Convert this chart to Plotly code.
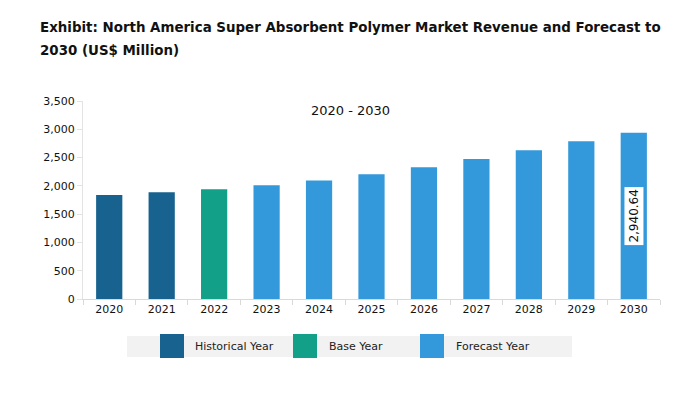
import plotly.graph_objects as go

years = ["2020", "2021", "2022", "2023", "2024", "2025", "2026", "2027", "2028", "2029", "2030"]
revenue = [1840, 1885, 1940, 2010, 2095, 2205, 2330, 2475, 2630, 2790, 2940.64]
kinds = ["Historical Year", "Historical Year", "Base Year"] + ["Forecast Year"] * 8
colors = {"Historical Year": "#17628f", "Base Year": "#12a089", "Forecast Year": "#3399db"}
legend_items = ["Historical Year", "Base Year", "Forecast Year"]
y_ticks = [0, 500, 1000, 1500, 2000, 2500, 3000, 3500]

OFF = 8  # page body margin
W, H = 683 - OFF, 398 - OFF
L, R, T, B = 83 - OFF, 23, 101 - OFF, 99
PW, PH = W - L - R, H - T - B

def px(x):
    return (x - OFF - L) / PW

def py(y):
    return (H - B - (y - OFF)) / PH

fig = go.Figure()
fig.add_trace(go.Bar(
    x=years, y=revenue,
    marker=dict(color=[colors[k] for k in kinds], line=dict(width=0)),
    width=0.5, showlegend=False, hoverinfo="x+y",
))

font = "DejaVu Sans, Verdana, sans-serif"
annotations = [
    dict(text="<b>Exhibit: North America Super Absorbent Polymer Market Revenue and Forecast to</b>",
         xref="paper", yref="paper", x=px(38), y=py(27), xanchor="left", yanchor="middle",
         showarrow=False, font=dict(family=font, size=13.4, color="#111")),
    dict(text="<b>2030 (US$ Million)</b>",
         xref="paper", yref="paper", x=px(38), y=py(50), xanchor="left", yanchor="middle",
         showarrow=False, font=dict(family=font, size=13.4, color="#111")),
    dict(text="2020 - 2030", xref="paper", yref="paper", x=px(350), y=py(110),
         xanchor="center", yanchor="middle", showarrow=False,
         font=dict(family=font, size=13, color="#111")),
    dict(text=f"{revenue[-1]:,.2f}", xref="x", yref="y", x=len(years) - 1, y=revenue[-1] / 2,
         textangle=-90, showarrow=False, bgcolor="white", borderpad=2,
         font=dict(family=font, size=12, color="#111")),
]

shapes = [dict(type="rect", xref="paper", yref="paper", x0=px(127), x1=px(572),
               y0=py(357), y1=py(336), fillcolor="#f2f2f2", line=dict(width=0), layer="below")]
sq_x = [160, 293, 420]
tx_x = [193, 327, 454]
for name, sx, tx in zip(legend_items, sq_x, tx_x):
    shapes.append(dict(type="rect", xref="paper", yref="paper", x0=px(sx), x1=px(sx + 24),
                       y0=py(358), y1=py(334), fillcolor=colors[name], line=dict(width=0)))
    annotations.append(dict(text=name, xref="paper", yref="paper", x=px(tx), y=py(346.5),
                            xanchor="left", yanchor="middle", showarrow=False,
                            font=dict(family=font, size=11, color="#222")))

fig.update_layout(
    width=W, height=H, margin=dict(l=L, r=R, t=T, b=B),
    paper_bgcolor="white", plot_bgcolor="white",
    annotations=annotations, shapes=shapes,
    xaxis=dict(type="category", range=[-0.5, 10.5], showline=True, linecolor="#d9d9d9",
               linewidth=1, ticks="outside", tickson="boundaries", ticklen=5, tickcolor="#d9d9d9",
               showgrid=False, tickfont=dict(family=font, size=11, color="#111")),
    yaxis=dict(range=[0, 3500], tickvals=y_ticks, tickformat=",", showline=True,
               linecolor="#e3e3e3", linewidth=1, ticks="outside", ticklen=5, tickcolor="#e3e3e3",
               showgrid=False, zeroline=False, tickfont=dict(family=font, size=11, color="#111")),
    showlegend=False,
)

fig.write_html("out.html")
